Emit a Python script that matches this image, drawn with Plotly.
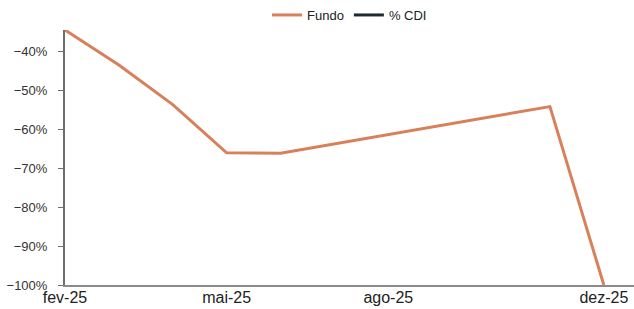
import plotly.graph_objects as go

months = ["fev-25", "mar-25", "abr-25", "mai-25", "jun-25", "jul-25",
          "ago-25", "set-25", "out-25", "nov-25", "dez-25"]
fundo = [-34.4, -43.4, -53.6, -66.0, -66.1, -63.7, -61.3, -58.9, -56.4, -54.1, -100.0]
cdi = [None] * len(months)
tick_labels = ["fev-25", "mai-25", "ago-25", "dez-25"]
tick_idx = [months.index(t) for t in tick_labels]

x = list(range(len(months)))

fig = go.Figure()
fig.add_trace(go.Scatter(x=x, y=fundo, name="Fundo", mode="lines",
                         line=dict(color="#D8805A", width=3), cliponaxis=False))
fig.add_trace(go.Scatter(x=x, y=cdi, name="% CDI", mode="lines",
                         line=dict(color="#1F2A30", width=3)))

fig.update_layout(
    width=634, height=309,
    margin=dict(l=65, r=0, t=28, b=24),
    paper_bgcolor="white", plot_bgcolor="white",
    font=dict(family="Liberation Sans, Arial, sans-serif", color="#222"),
    legend=dict(orientation="h", x=0.5, xanchor="center", y=1.06, yanchor="middle",
                font=dict(size=13), bgcolor="rgba(0,0,0,0)"),
    showlegend=True,
)
fig.update_xaxes(
    range=[0, 10.56], tickmode="array", tickvals=tick_idx, ticktext=tick_labels,
    showgrid=False, zeroline=False, showline=True, linecolor="#8a8a8a", linewidth=1.5,
    ticks="", tickfont=dict(size=16, color="#222"), automargin=False,
    ticklabelstandoff=-3,
)
fig.update_yaxes(
    range=[-100, -34.4], tickmode="linear", tick0=0, dtick=10, ticksuffix="%",
    showgrid=False, zeroline=False, showline=True, linecolor="#6e6e6e", linewidth=2,
    ticks="outside", ticklen=5, tickcolor="#6e6e6e", tickfont=dict(size=13, color="#333"),
    automargin=False, ticklabelstandoff=8,
)

fig.write_html("out.html", config={"displayModeBar": False},
               post_script="document.body.style.margin='0';document.body.style.overflow='hidden';")
